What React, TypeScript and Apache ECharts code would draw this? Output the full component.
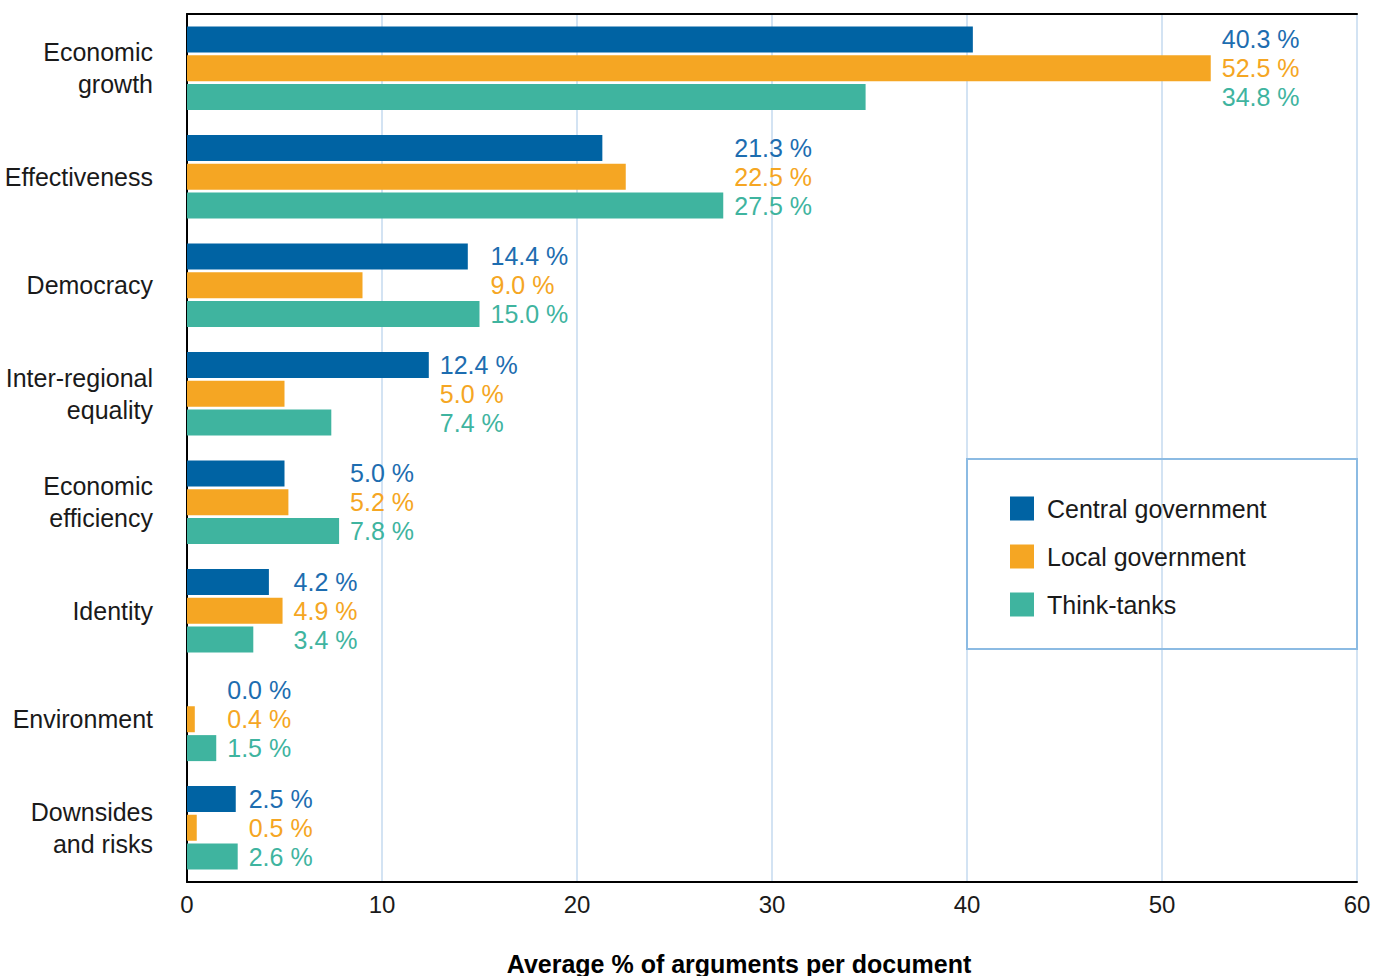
import React, { useEffect, useRef } from "react";
import * as echarts from "echarts";

const categories = [
  "Economic\ngrowth",
  "Effectiveness",
  "Democracy",
  "Inter-regional\nequality",
  "Economic\nefficiency",
  "Identity",
  "Environment",
  "Downsides\nand risks",
];
const seriesNames = ["Central government", "Local government", "Think-tanks"];
const central = [40.3, 21.3, 14.4, 12.4, 5.0, 4.2, 0.0, 2.5];
const local = [52.5, 22.5, 9.0, 5.0, 5.2, 4.9, 0.4, 0.5];
const thinkTanks = [34.8, 27.5, 15.0, 7.4, 7.8, 3.4, 1.5, 2.6];
const xTicks = [0, 10, 20, 30, 40, 50, 60];

const barColors = ["#0063a3", "#f5a623", "#3fb49f"];
const labelColors = ["#1d6db0", "#f5a623", "#3fb49f"];

const W = 1384;
const H = 976;
const GRID = { left: 187, right: 27, top: 14, bottom: 94 };
const FONT = "'Liberation Sans', Arial, Helvetica, sans-serif";

export default function App() {
  const ref = useRef<HTMLDivElement>(null);
  useEffect(() => {
    document.body.style.margin = "0";
    if (!ref.current) return;
    const chart = echarts.init(ref.current, undefined, { renderer: "svg" });
    const xMin = xTicks[0];
    const xMax = xTicks[xTicks.length - 1];
    const pxPerUnit = (W - GRID.left - GRID.right) / (xMax - xMin);
    const all = [central, local, thinkTanks];
    const groupMax = categories.map((_, i) => Math.max(central[i], local[i], thinkTanks[i]));

    const series = all.map((vals, si) => ({
      name: seriesNames[si],
      type: "bar",
      barWidth: 26,
      barGap: "11%",
      itemStyle: { color: barColors[si] },
      data: vals.map((v, i) => ({
        value: v,
        label: {
          show: true,
          position: "right",
          distance: 11,
          offset: [(groupMax[i] - v) * pxPerUnit, 0],
          formatter: () => v.toFixed(1) + " %",
          color: labelColors[si],
          fontSize: 25,
          fontFamily: FONT,
        },
      })),
    }));

    chart.setOption({
      animation: false,
      textStyle: { fontFamily: FONT },
      grid: { ...GRID, containLabel: false, outerBoundsMode: "none" },
      legend: {
        orient: "vertical",
        left: 1010,
        top: 496,
        padding: 0,
        itemWidth: 24,
        itemHeight: 24,
        itemGap: 23,
        icon: "rect",
        data: seriesNames,
        textStyle: { fontSize: 25, color: "#1a1a1a", fontFamily: FONT, padding: [0, 0, 0, 8] },
      },
      xAxis: [
        {
          type: "value",
          min: xMin,
          max: xMax,
          interval: 10,
          position: "bottom",
          axisLine: { show: true, lineStyle: { color: "#000", width: 2 } },
          axisTick: { show: false },
          axisLabel: { fontSize: 24, color: "#1a1a1a", margin: 10, fontFamily: FONT },
          splitLine: { show: true, lineStyle: { color: "#d3e3f3", width: 2 } },
          name: "Average % of arguments per document",
          nameLocation: "middle",
          nameGap: 69,
          nameTextStyle: {
            fontSize: 25,
            fontWeight: "bold",
            color: "#000",
            fontFamily: FONT,
            padding: [0, 66, 0, 0],
          },
        },
        {
          type: "value",
          min: xMin,
          max: xMax,
          interval: 10,
          position: "top",
          axisLine: { show: true, onZero: false, lineStyle: { color: "#000", width: 2 } },
          axisTick: { show: false },
          axisLabel: { show: false },
          splitLine: { show: false },
        },
      ],
      yAxis: {
        type: "category",
        inverse: true,
        data: categories,
        axisLine: { show: true, lineStyle: { color: "#000", width: 2 } },
        axisTick: { show: false },
        axisLabel: {
          fontSize: 25,
          color: "#1a1a1a",
          margin: 34,
          lineHeight: 32,
          align: "right",
          fontFamily: FONT,
        },
        splitLine: { show: false },
      },
      graphic: [
        {
          type: "rect",
          shape: { x: 967, y: 459, width: 390, height: 190 },
          style: { fill: "none", stroke: "#8cbbe3", lineWidth: 2 },
          z: 10,
        },
      ],
      series,
    });
    return () => chart.dispose();
  }, []);
  return <div ref={ref} style={{ width: W, height: H }} />;
}
